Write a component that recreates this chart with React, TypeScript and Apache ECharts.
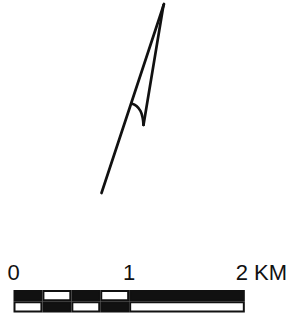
import React, { useEffect, useRef } from "react";
import * as echarts from "echarts";

// Scale bar (km)
const scaleTicks = [0, 1, 2];
const tickLabels = ["0", "1", "2 KM"];
const segmentKm = [0.25, 0.25, 0.25, 0.25, 1];
const topRowColors = ["#111", "#fff", "#111", "#fff", "#111"];
const bottomRowColors = ["#fff", "#111", "#fff", "#111", "#fff"];
const rows = ["bottom", "top"];

// North arrow strokes (drawing units = page pixels)
const arrowMain = [[164, 4], [101.5, 193]];
const arrowInner = [[163.5, 5], [143.5, 125]];
const arrowBarb = [[131.5, 103.5], [136.5, 106], [140.5, 111], [142.7, 118], [143.5, 125]];

export default function App() {
  const ref = useRef<HTMLDivElement>(null);
  useEffect(() => {
    const chart = echarts.init(ref.current!, null, { renderer: "svg" });
    const lineStyle = { color: "#111", width: 2.7, cap: "round" as const, join: "round" as const };
    const barSeries = segmentKm.map((w, i) => ({
      type: "bar" as const,
      stack: "scale",
      xAxisIndex: 0,
      yAxisIndex: 0,
      barWidth: "100%",
      barCategoryGap: 0,
      silent: true,
      data: [
        { value: w, itemStyle: { color: bottomRowColors[i] } },
        { value: w, itemStyle: { color: topRowColors[i] } },
      ],
      itemStyle: { borderColor: "#111", borderWidth: 2 },
    }));
    const arrowSeries = [arrowMain, arrowInner, arrowBarb].map((pts, i) => ({
      type: "line" as const,
      xAxisIndex: 1,
      yAxisIndex: 1,
      data: pts,
      symbol: "none",
      smooth: i === 2 ? 0.4 : false,
      lineStyle,
      silent: true,
    }));
    chart.setOption({
      animation: false,
      backgroundColor: "#fff",
      grid: [
        { left: 13.5, right: 45, top: 290, bottom: 4.5 },
        { left: 0, right: 0, top: 0, bottom: 0 },
      ],
      xAxis: [
        {
          type: "value",
          gridIndex: 0,
          position: "top",
          min: 0,
          max: 2,
          interval: 1,
          axisLine: { show: false },
          axisTick: { show: false },
          splitLine: { show: false },
          axisLabel: {
            margin: 7,
            fontSize: 22,
            fontFamily: "Liberation Sans, Arial, sans-serif",
            color: "#111",
            formatter: (v: number) => {
              const idx = scaleTicks.indexOf(v);
              const t = idx >= 0 ? tickLabels[idx] : "";
              return idx === scaleTicks.length - 1 ? `{k|${t}}` : t;
            },
            rich: {
              k: {
                fontSize: 22,
                fontFamily: "Liberation Sans, Arial, sans-serif",
                color: "#111",
                padding: [0, 0, 0, 33],
              },
            },
          },
        },
        { type: "value", gridIndex: 1, min: 0, max: 290, show: false },
      ],
      yAxis: [
        { type: "category", gridIndex: 0, data: rows, show: false },
        { type: "value", gridIndex: 1, min: 0, max: 317, inverse: true, show: false },
      ],
      series: [...barSeries, ...arrowSeries],
    });
    return () => chart.dispose();
  }, []);
  return (
    <div
      ref={ref}
      style={{ position: "absolute", left: 0, top: 0, width: 290, height: 317 }}
    />
  );
}
